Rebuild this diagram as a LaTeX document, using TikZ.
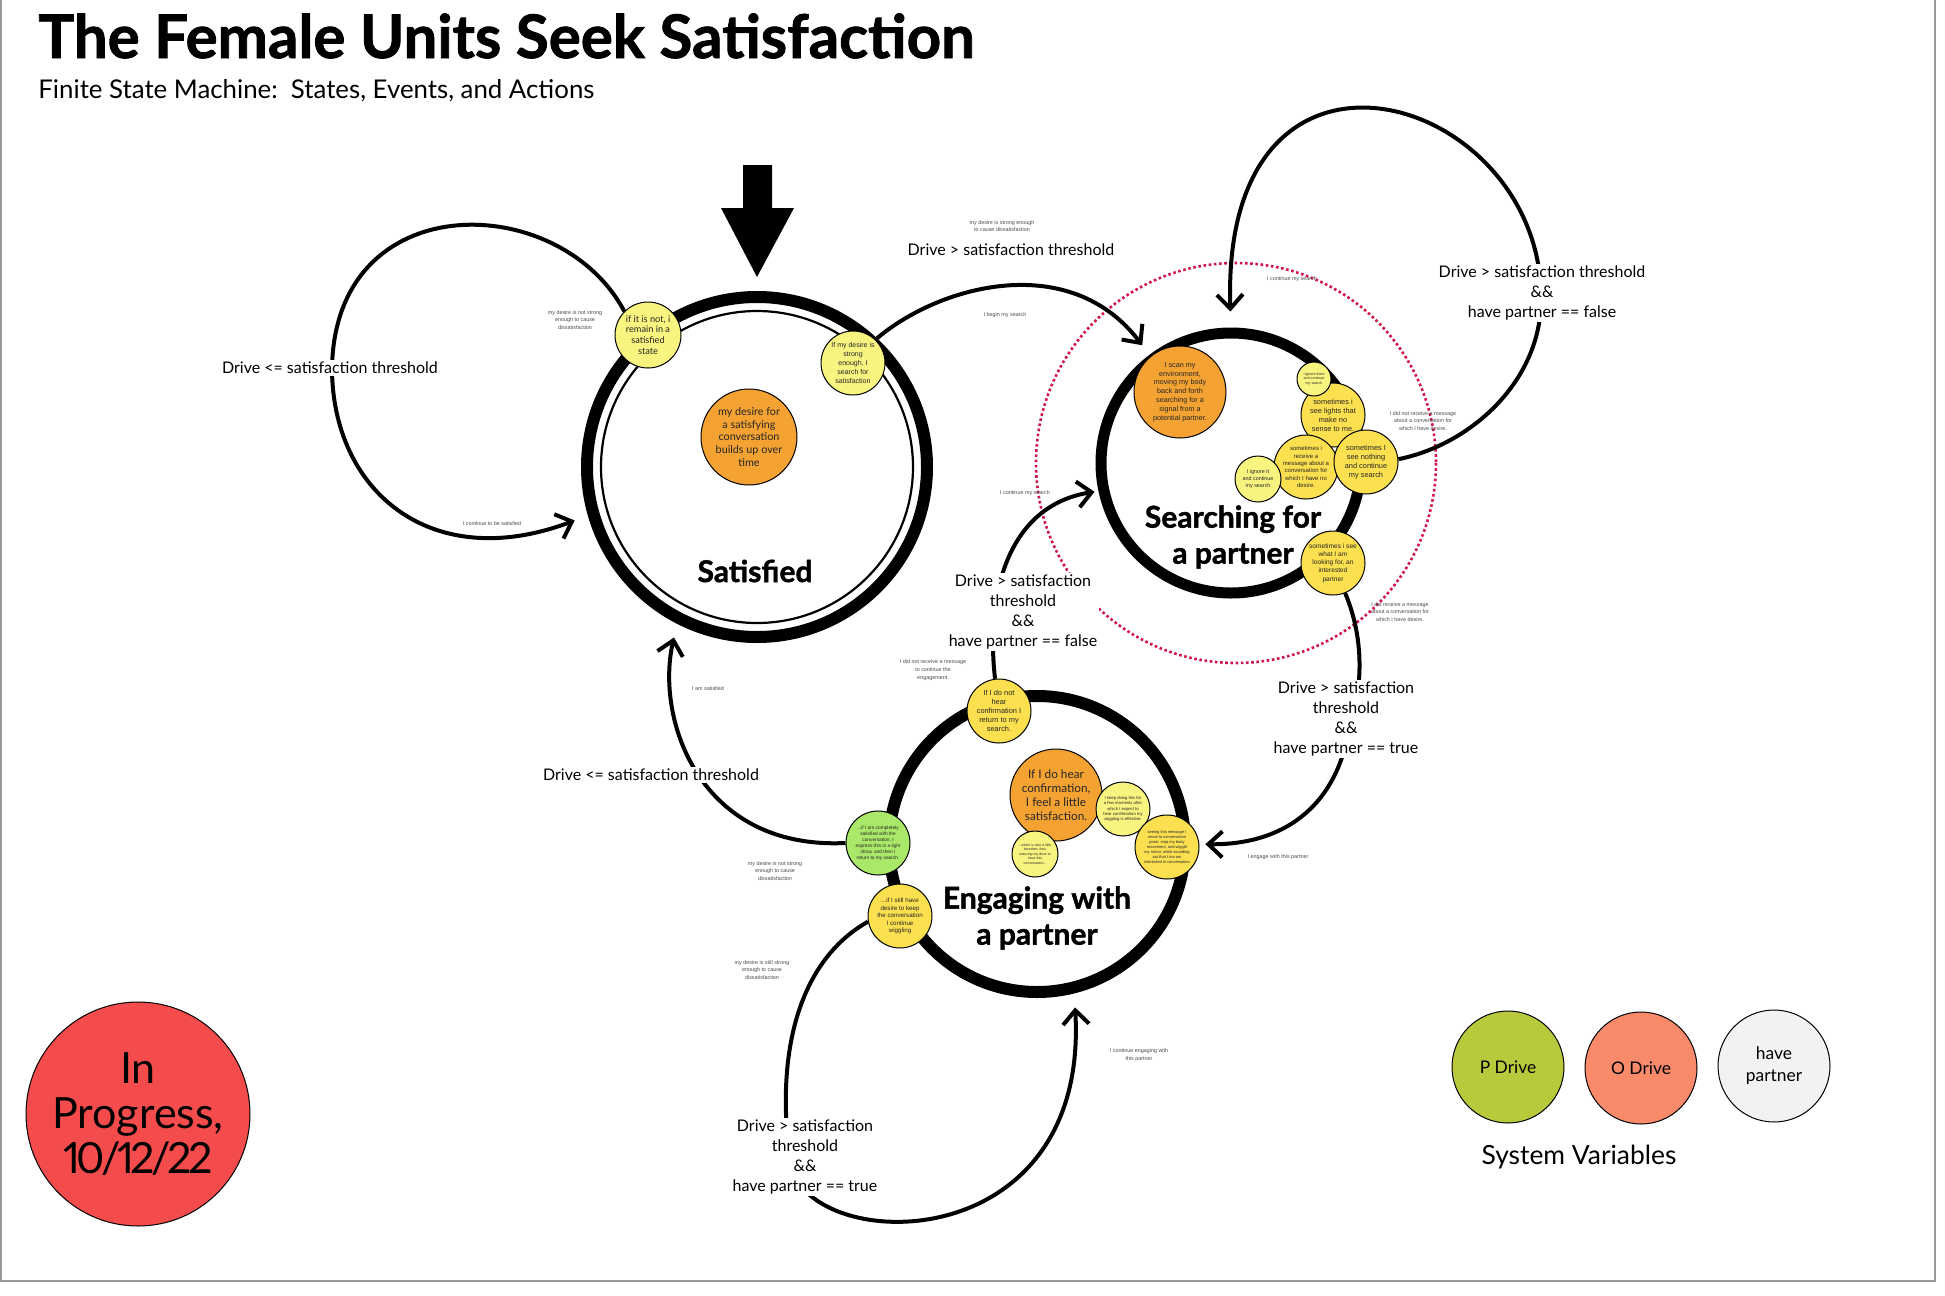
\documentclass[tikz,border=0pt]{standalone}
\usepackage{fontspec}
\setmainfont{Lato}[Numbers=Proportional, BoldFeatures={FakeBold=1.4}]
\newfontfamily\smallsans{Liberation Sans}
\usetikzlibrary{arrows.meta}
\newcommand\setfs[2]{\fontsize{#1}{#2}\selectfont}

\definecolor{bubbleorange}{HTML}{F4A232}
\definecolor{bubbleyellow}{HTML}{FCE050}
\definecolor{bubblepale}{HTML}{F8F480}
\definecolor{bubblegreen}{HTML}{A9E868}
\definecolor{dottedred}{HTML}{D0154A}
\definecolor{progressred}{HTML}{F44C4C}
\definecolor{pdrive}{HTML}{B9C93C}
\definecolor{odrive}{HTML}{F98B6B}
\definecolor{havepartner}{HTML}{F2F2F2}
\definecolor{notegray}{HTML}{4A4A4A}
\definecolor{framegray}{HTML}{9A9A9A}

\tikzset{
  x=0.5pt, y=-0.5pt,
  state/.style={circle, draw=black, line width=6pt, inner sep=0pt},
  bubble/.style={circle, draw=black, line width=0.5pt, inner sep=0pt, align=center, text=black!85},
  orangebubble/.style={bubble, fill=bubbleorange},
  yellowbubble/.style={bubble, fill=bubbleyellow},
  palebubble/.style={bubble, fill=bubblepale},
  greenbubble/.style={bubble, fill=bubblegreen},
  statelabel/.style={font=\bfseries\setfs{15}{18}, align=center},
  guard/.style={fill=white, inner sep=1pt, align=center, font=\setfs{8}{9.9}},
  note/.style={align=center, text=notegray, font=\smallsans\setfs{2.7}{3.9}, inner sep=0pt},
  trans/.style={line width=2pt, -{Straight Barb[length=7pt,width=13pt]}},
  legendvar/.style={circle, draw=black, line width=0.5pt, minimum size=56pt, inner sep=0pt, align=center, font=\setfs{8.7}{11}},
}

\begin{document}
\begin{tikzpicture}
\useasboundingbox (0,0) rectangle (1945,1296);
\draw[framegray, line width=0.6pt] (1,0) -- (1,1281) -- (1935,1281) -- (1935,0);

% heading
\node[anchor=base west, inner sep=0pt, font=\bfseries\setfs{30}{32}] (title) at (38,58) {The Female Units Seek Satisfaction};
\node[anchor=base west, inner sep=0pt, font=\setfs{12.9}{15}] (subtitle) at (38,98) {Finite State Machine:\ \ States, Events, and Actions};

% initial-state arrow
\fill (743,165) -- (772,165) -- (772,208) -- (794,208) -- (757,277) -- (721,208) -- (743,208) -- cycle;

% highlighted search region
\draw[dottedred, line width=1.3pt, dash pattern=on 1.3pt off 1.3pt] (1236,463) circle[radius=200];

% ---------- states ----------
\node[state, minimum size=170pt] (sat) at (757,467) {};
\node[circle, draw=black, line width=1.1pt, inner sep=0pt, minimum size=156pt] (satinner) at (757,467) {};
\node[state, minimum size=130pt, line width=5.5pt] (search) at (1231,463) {};
\node[state, minimum size=148pt] (engage) at (1037,844) {};

\node[statelabel] (satlabel) at (755,571) {Satisfied};
\node[statelabel] (searchlabel) at (1233,537) {Searching for\\a partner};
\node[statelabel] (engagelabel) at (1037,918) {Engaging with\\a partner};

% ---------- bubbles: satisfied ----------
\node[orangebubble, minimum size=48pt, font=\setfs{5.4}{6.4}] (desire) at (749,437) {my desire for\\a satisfying\\conversation\\builds up over\\time};
\node[palebubble, minimum size=33pt, font=\setfs{4.6}{5.4}] (notstrong) at (648,335) {if it is not, i\\remain in a\\satisfied\\state};
\node[palebubble, minimum size=32pt, font=\smallsans\setfs{3.5}{4.6}] (strong) at (853,363) {If my desire is\\strong\\enough, I\\search for\\satisfaction};

% ---------- bubbles: searching ----------
\node[orangebubble, minimum size=46pt, font=\smallsans\setfs{3.6}{4.4}] (scan) at (1180,392) {I scan my\\environment,\\moving my body\\back and forth\\searching for a\\signal from a\\potential partner.};
\node[yellowbubble, minimum size=32pt, font=\smallsans\setfs{3.7}{4.5}] (lights) at (1333,415) {sometimes i\\see lights that\\make no\\sense to me.};
\node[palebubble, minimum size=17pt, font=\smallsans\setfs{1.8}{2.3}] (ignorethem) at (1314,379) {I ignore them\\and continue\\my search};
\node[yellowbubble, minimum size=32pt, font=\smallsans\setfs{3.0}{3.7}] (receive) at (1306,467) {sometimes i\\receive a\\message about a\\conversation for\\which I have no\\desire.};
\node[palebubble, minimum size=23pt, font=\smallsans\setfs{2.7}{3.4}] (ignoreit) at (1258,479) {I ignore it\\and continue\\my search};
\node[yellowbubble, minimum size=32pt, font=\smallsans\setfs{3.7}{4.5}] (nothing) at (1366,462) {sometimes I\\see nothing\\and continue\\my search};
\node[yellowbubble, minimum size=32pt, font=\smallsans\setfs{3.3}{4.1}] (found) at (1333,563) {sometimes i see\\what I am\\looking for, an\\interested\\partner};

% ---------- bubbles: engaging ----------
\node[orangebubble, minimum size=46pt, font=\setfs{5.9}{7}] (hear) at (1056,795) {If I do hear\\confirmation,\\I feel a little\\satisfaction.};
\node[palebubble, minimum size=27pt, font=\smallsans\setfs{2.1}{2.7}] (keep) at (1123,809) {I keep doing this for\\a few moments after\\which I expect to\\hear confirmation my\\wiggling is effective.};
\node[palebubble, minimum size=23pt, font=\smallsans\setfs{1.75}{2.2}] (bored) at (1035,854) {...which is also a little\\boredom, thus\\reducing my drive to\\have this\\conversation...};
\node[yellowbubble, minimum size=32pt, font=\smallsans\setfs{2.0}{2.5}] (seeing) at (1167,847) {seeing this message I\\move to conversation\\pose: stop my body\\movement, and wiggle\\my mirror, while sounding\\out that I too am\\interested in conversation};
\node[yellowbubble, minimum size=32pt, font=\smallsans\setfs{3.7}{4.5}] (nohear) at (999,711) {If I do not\\hear\\confirmation I\\return to my\\search.};
\node[greenbubble, minimum size=32pt, font=\smallsans\setfs{2.4}{3}] (complete) at (878,843) {...if I am completely\\satisfied with the\\conversation, I\\express this in a light\\show, and then I\\return to my search.};
\node[yellowbubble, minimum size=32pt, font=\smallsans\setfs{3.1}{3.8}] (still) at (900,916) {...if I still have\\desire to keep\\the conversation\\I continue\\wiggling};

% ---------- transitions ----------
\coordinate (satloopmid) at (332,368);
\coordinate (searchloopmid) at (1541,292);
\coordinate (foundmid) at (1350,722);
\coordinate (engloopmid) at (790,1160);

\draw[trans, shorten >=7pt] (notstrong.135) .. controls (560,190) and (335,185) .. (satloopmid)
      .. controls (332,490) and (430,575) .. (sat.196);
\draw[trans, shorten >=6pt] (sat.47) .. controls (940,285) and (1070,250) .. (search.127);
\draw[trans, shorten >=8pt] (nothing.5) .. controls (1470,445) and (1545,380) .. (searchloopmid)
      .. controls (1535,90) and (1220,0) .. (search.90);
\draw[trans, shorten >=3pt] (found.-68) .. controls (1365,640) and (1362,690) .. (foundmid)
      .. controls (1340,800) and (1290,845) .. (seeing.5);
\draw[trans, shorten >=2pt] (nohear.97) .. controls (985,590) and (1010,505) .. (search.192);
\draw[trans, shorten >=7pt] (complete.west) .. controls (700,850) and (655,720) .. (sat.243);
\draw[trans, shorten >=7pt] (still.190) .. controls (800,960) and (775,1050) .. (engloopmid)
      .. controls (800,1255) and (1090,1265) .. (engage.284);

% ---------- guards ----------
\node[guard] (g1) at (330,368) {Drive <= satisfaction threshold};
\node[guard] (g2) at (1011,250) {Drive > satisfaction threshold};
\node[guard] (g3) at (1542,293) {Drive > satisfaction threshold\\\&\&\\have partner == false};
\node[guard] (g4) at (1346,719) {Drive > satisfaction\\threshold\\\&\&\\have partner == true};
\node[guard] (g5) at (1023,612) {Drive > satisfaction\\threshold\\\&\&\\have partner == false};
\node[guard] (g6) at (651,775) {Drive <= satisfaction threshold};
\node[guard] (g7) at (805,1157) {Drive > satisfaction\\threshold\\\&\&\\have partner == true};

% ---------- events and actions ----------
\node[note] (n1) at (575,320) {my desire is not strong\\enough to cause\\dissatisfaction};
\node[note] (n2) at (492,524) {I continue to be satisfied};
\node[note] (n3) at (1002,226) {my desire is strong enough\\to cause dissatisfaction};
\node[note] (n4) at (1005,315) {I begin my search};
\node[note] (n5) at (1292,279) {I continue my search};
\node[note] (n6) at (1423,421) {I did not receive a message\\about a conversation for\\which I have desire.};
\node[note] (n7) at (1400,612) {I did receive a message\\about a conversation for\\which I have desire.};
\node[note] (n8) at (1278,857) {I engage with this partner};
\node[note] (n9) at (1025,493) {I continue my search};
\node[note] (n10) at (933,670) {I did not receive a message\\to continue the\\engagement.};
\node[note] (n11) at (708,689) {I am satisfied};
\node[note] (n12) at (775,871) {my desire is not strong\\enough to cause\\dissatisfaction};
\node[note] (n13) at (762,970) {my desire is still strong\\enough to cause\\dissatisfaction};
\node[note] (n14) at (1139,1055) {I continue engaging with\\this partner};

% ---------- status and legend ----------
\node[circle, draw=black, line width=0.5pt, fill=progressred, minimum size=112pt, inner sep=0pt, align=center, font=\setfs{21.5}{22.7}] (progress) at (138,1114) {In\\Progress,\\{\addfontfeature{LetterSpace=-8}10/12/22}};

\node[legendvar, fill=pdrive] (pvar) at (1508,1067) {P Drive};
\node[legendvar, fill=odrive] (ovar) at (1641,1068) {O Drive};
\node[legendvar, fill=havepartner] (hvar) at (1774,1066) {have\\partner};
\node[font=\setfs{13.2}{15}] (legendtitle) at (1579,1157) {System Variables};
\end{tikzpicture}
\end{document}
